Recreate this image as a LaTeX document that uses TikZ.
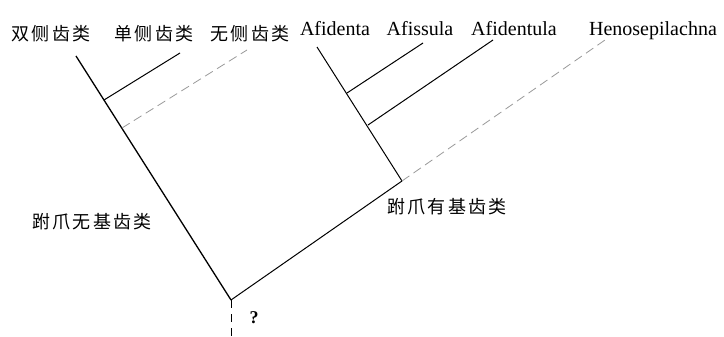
\documentclass[tikz,border=0pt]{standalone}
\usepackage{fontspec}
\setmainfont{Liberation Serif}
\newfontfamily\cjk[LetterSpace=12]{Noto Sans CJK SC}
\begin{document}
\begin{tikzpicture}[x=1pt, y=-1pt,
  taxon/.style={inner sep=0pt, anchor=base, font=\fontsize{20}{24}\selectfont},
  group/.style={inner sep=0pt, font={\fontsize{18}{22}\selectfont\cjk}},
  stem/.style={-, line width=1.3pt, draw=black},
  branch/.style={-, line width=1pt, draw=black},
  faint/.style={-, line width=0.8pt, draw=black!40, dash pattern=on 9pt off 5pt},
  rootdash/.style={-, line width=1pt, draw=black, dash pattern=on 8pt off 6pt}]
\useasboundingbox (0,0) rectangle (724,337);
% tip labels
\node[group] (shuang) at (51,34) {双侧齿类};
\node[group] (dan) at (154,34) {单侧齿类};
\node[group] (wu) at (250,34) {无侧齿类};
\node[taxon] (afidenta) at (335,36) {Afidenta};
\node[taxon] (afissula) at (420,36) {Afissula};
\node[taxon] (afidentula) at (514,36) {Afidentula};
\node[taxon] (heno) at (653,36) {Henosepilachna};
% clade labels
\node[group] (wuji) at (92,222) {跗爪无基齿类};
\node[group] (youji) at (447,207) {跗爪有基齿类};
\node[inner sep=0pt, font=\fontsize{18}{22}\selectfont\bfseries] (unsure) at (254,318) {?};
% tips
\coordinate (t1) at (76,56);
\coordinate (t2) at (180,53);
\coordinate (t3) at (247,50);
\coordinate (t4) at (317,47);
\coordinate (t5) at (423,43);
\coordinate (t6) at (493,40);
\coordinate (t7) at (605,40);
% junctions
\coordinate (r) at (231,300);
\coordinate (a) at (104,100);
\coordinate (b) at (122,128);
\coordinate (j) at (402,181);
\coordinate (c) at (347,93);
\coordinate (d) at (368,125);
\coordinate (base) at (231,337);
\path [stem] (t1) edge (r);
\path [branch] (a) edge (t2);
\path [faint] (b) edge (t3);
\path [branch] (t4) edge (j);
\path [branch] (c) edge (t5);
\path [branch] (d) edge (t6);
\path [branch] (r) edge (j);
\path [faint] (j) edge (t7);
\path [rootdash] (r) edge (base);
\end{tikzpicture}
\end{document}
